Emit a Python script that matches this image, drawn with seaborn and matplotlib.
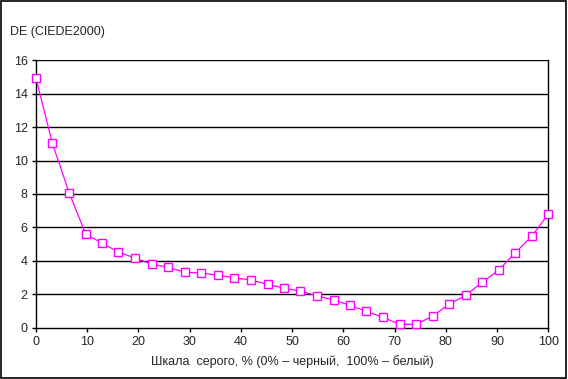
import numpy as np
import pandas as pd
import matplotlib
matplotlib.use("Agg")
import matplotlib.pyplot as plt
import seaborn as sns
from matplotlib.patches import Rectangle

gray_pct = [0.0, 3.2, 6.5, 9.7, 12.9, 16.1, 19.4, 22.6, 25.8, 29.0, 32.3, 35.5,
            38.7, 41.9, 45.2, 48.4, 51.6, 54.8, 58.1, 61.3, 64.5, 67.7, 71.0,
            74.2, 77.4, 80.6, 83.9, 87.1, 90.3, 93.5, 96.8, 100.0]
de_values = [14.92, 11.03, 8.05, 5.6, 5.06, 4.52, 4.16, 3.8, 3.62, 3.32, 3.26,
             3.14, 2.98, 2.86, 2.6, 2.36, 2.2, 1.9, 1.66, 1.34, 0.98, 0.62,
             0.2, 0.2, 0.68, 1.4, 1.94, 2.72, 3.44, 4.46, 5.48, 6.8]
x_ticks = [0, 10, 20, 30, 40, 50, 60, 70, 80, 90, 100]
y_ticks = [0, 2, 4, 6, 8, 10, 12, 14, 16]
y_title = "DE (CIEDE2000)"
x_title = "Шкала  серого, % (0% – черный,  100% – белый)"

sns.set_style("white")
plt.rcParams['font.family'] = ['Liberation Sans', 'DejaVu Sans']

df = pd.DataFrame({"x": gray_pct, "y": de_values})

fig = plt.figure(figsize=(5.68, 3.79), dpi=100)
ax = fig.add_axes([0.0634, 0.1354, 0.9019, 0.7055])

for yv in y_ticks[1:]:
    ax.axhline(yv, color="black", lw=1.0, zorder=1)

sns.lineplot(data=df, x="x", y="y", ax=ax, color="#FF00FF", lw=0.9,
             marker="s", markersize=6.2, markerfacecolor="white",
             markeredgecolor="#FF00FF", markeredgewidth=1.0, zorder=3,
             clip_on=False)

ax.set_xlim(0, 100)
ax.set_ylim(0, 16)
ax.set_xticks(x_ticks)
ax.set_yticks(y_ticks)
ax.tick_params(axis="both", direction="out", length=3, width=1, color="black",
               labelsize=9, pad=3, bottom=True, left=True)
for s in ["left", "bottom", "right"]:
    ax.spines[s].set_color("black")
    ax.spines[s].set_linewidth(1.0)
ax.spines["top"].set_visible(False)
ax.set_xlabel(x_title, fontsize=9, labelpad=5)
ax.set_ylabel("")
fig.text(10 / 568, 1 - 32 / 379, y_title, fontsize=9, va="center", ha="left")

fig.patches.append(Rectangle((0.002, 0.003), 0.994, 0.994, transform=fig.transFigure,
                             fill=False, edgecolor="black", lw=1.2))

fig.savefig("out.png", dpi=100)
